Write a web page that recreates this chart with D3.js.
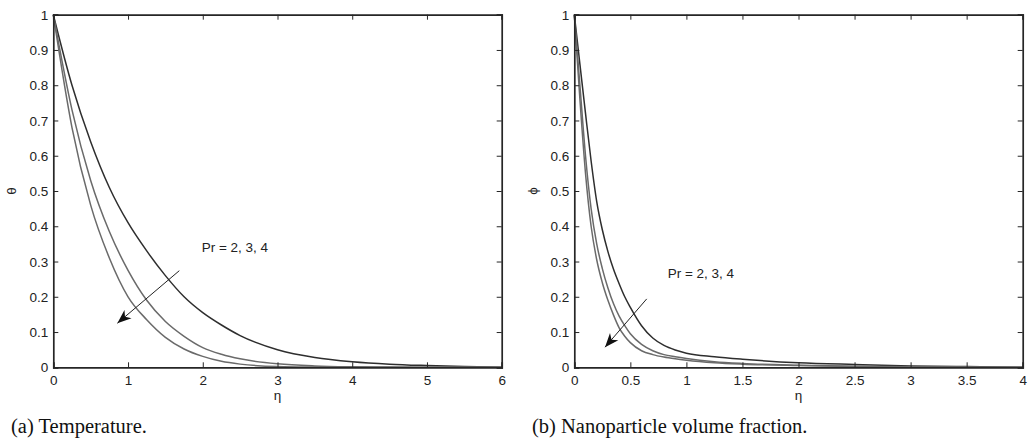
<!DOCTYPE html>
<html>
<head>
<meta charset="utf-8">
<script src="https://cdn.jsdelivr.net/npm/d3@7"></script>
<style>
  body { margin: 0; background: #fff; }
  .caption { font-family: "Liberation Serif", "Times New Roman", serif; font-size: 20.5px; fill: #111; }
  .lbl { font-family: "Liberation Sans", Arial, sans-serif; font-size: 13.5px; fill: #222; }
</style>
</head>
<body>
<svg id="chart"></svg>
<script>
// temperature profiles, Pr = 2, 3, 4
const etaA = [0, 0.25, 0.5, 0.75, 1, 1.25, 1.5, 1.75, 2, 2.25, 2.5, 3, 3.5, 4, 4.5, 5, 5.5, 6];
const thetaPr2 = [1, 0.8, 0.64, 0.51, 0.41, 0.33, 0.26, 0.2, 0.155, 0.12, 0.09, 0.05, 0.028, 0.016, 0.009, 0.005, 0.002, 0];
const thetaPr3 = [1, 0.73, 0.53, 0.385, 0.275, 0.19, 0.13, 0.088, 0.056, 0.037, 0.024, 0.01, 0.004, 0.0015, 0.0005, 0, 0, 0];
const thetaPr4 = [1, 0.68, 0.46, 0.31, 0.2, 0.135, 0.085, 0.052, 0.031, 0.017, 0.009, 0.002, 0.0005, 0, 0, 0, 0, 0];

// nanoparticle volume fraction, Pr = 2, 3, 4
const etaB = [0, 0.05, 0.1, 0.15, 0.2, 0.25, 0.3, 0.35, 0.4, 0.45, 0.5, 0.6, 0.7, 0.8, 0.9, 1, 1.25, 1.5, 2, 2.5, 3, 3.5, 4];
const phiPr2 = [1, 0.86, 0.72, 0.585, 0.47, 0.39, 0.328, 0.278, 0.237, 0.2, 0.17, 0.118, 0.083, 0.062, 0.049, 0.04, 0.03, 0.023, 0.013, 0.008, 0.004, 0.002, 0];
const phiPr3 = [1, 0.8, 0.6, 0.45, 0.35, 0.28, 0.225, 0.18, 0.145, 0.118, 0.095, 0.065, 0.047, 0.036, 0.03, 0.025, 0.016, 0.011, 0.006, 0.003, 0.0015, 0.0007, 0];
const phiPr4 = [1, 0.76, 0.55, 0.4, 0.305, 0.24, 0.19, 0.148, 0.112, 0.088, 0.07, 0.047, 0.036, 0.029, 0.024, 0.02, 0.013, 0.009, 0.005, 0.0025, 0.001, 0.0004, 0];

const yTicks = [0, 0.1, 0.2, 0.3, 0.4, 0.5, 0.6, 0.7, 0.8, 0.9, 1];
const xTicksA = [0, 1, 2, 3, 4, 5, 6];
const xTicksB = [0, 0.5, 1, 1.5, 2, 2.5, 3, 3.5, 4];
const lineColors = ["#2e2e2e", "#6a6a6a", "#6a6a6a"];

const svg = d3.select("#chart").attr("width", 1032).attr("height", 443);
svg.append("rect").attr("width", 1032).attr("height", 443).attr("fill", "#fff");

function drawPanel(p) {
  const x = d3.scaleLinear().domain(p.xDomain).range(p.xRange);
  const y = d3.scaleLinear().domain([0, 1]).range([367.3, 14.7]);
  const g = svg.append("g");

  // curves
  const line = d3.line()
    .x(d => x(d[0]))
    .y(d => y(d[1]))
    .curve(d3.curveMonotoneX);
  p.series.forEach(function (s, i) {
    g.append("path")
      .datum(p.eta.map((e, j) => [e, s[j]]))
      .attr("d", line)
      .attr("fill", "none")
      .attr("stroke", lineColors[i])
      .attr("stroke-width", 1.5);
  });

  // axes with inward ticks on all sides
  const tl = 5;
  const bottom = g.append("g").attr("transform", "translate(0," + y(0) + ")")
    .call(d3.axisBottom(x).tickValues(p.xTicks).tickSize(-tl).tickFormat(d3.format("")));
  bottom.selectAll(".tick text").attr("y", 18).attr("dy", null);
  g.append("g").attr("transform", "translate(0," + y(1) + ")")
    .call(d3.axisTop(x).tickValues(p.xTicks).tickSize(-tl).tickFormat(""));
  const left = g.append("g").attr("transform", "translate(" + x(p.xDomain[0]) + ",0)")
    .call(d3.axisLeft(y).tickValues(yTicks).tickSize(-tl).tickPadding(5).tickFormat(d3.format("")));
  left.selectAll(".tick text").attr("dy", "0.34em");
  g.append("g").attr("transform", "translate(" + x(p.xDomain[1]) + ",0)")
    .call(d3.axisRight(y).tickValues(yTicks).tickSize(-tl).tickFormat(""));
  g.selectAll(".tick text")
    .style("font-family", "'Liberation Sans', Arial, sans-serif")
    .style("font-size", "13.5px")
    .style("fill", "#222");
  g.selectAll(".domain").attr("stroke", "#262626").attr("stroke-width", 1.7);
  g.selectAll(".tick line").attr("stroke", "#262626").attr("stroke-width", 1);

  // axis labels
  g.append("text").attr("class", "lbl")
    .attr("x", (p.xRange[0] + p.xRange[1]) / 2).attr("y", 400)
    .attr("text-anchor", "middle").text("\u03b7");
  g.append("text").attr("class", "lbl")
    .attr("transform", "translate(" + (p.xRange[0] - 37) + "," + y(0.5) + ") rotate(-90)")
    .attr("text-anchor", "middle").text(p.yLabel);

  // annotation
  g.append("text").attr("class", "lbl")
    .attr("x", x(p.note[0])).attr("y", y(p.note[1]) + 5).text("Pr = 2, 3, 4");
  const x1 = x(p.arrow[0]), y1 = y(p.arrow[1]), x2 = x(p.arrow[2]), y2 = y(p.arrow[3]);
  g.append("line").attr("x1", x1).attr("y1", y1).attr("x2", x2).attr("y2", y2)
    .attr("stroke", "#222").attr("stroke-width", 1);
  const ang = Math.atan2(y2 - y1, x2 - x1) * 180 / Math.PI;
  g.append("path")
    .attr("d", "M0,0 L-14,-5.5 L-10,0 L-14,5.5 Z")
    .attr("transform", "translate(" + x2 + "," + y2 + ") rotate(" + ang + ")")
    .attr("fill", "#111");

  // caption
  svg.append("text").attr("class", "caption")
    .attr("x", p.capX).attr("y", 433).text(p.caption);
}

drawPanel({
  xDomain: [0, 6], xRange: [53.3, 501.7], xTicks: xTicksA,
  eta: etaA, series: [thetaPr2, thetaPr3, thetaPr4],
  yLabel: "\u03b8", note: [1.985, 0.341], arrow: [1.686, 0.274, 0.857, 0.125],
  caption: "(a) Temperature.", capX: 11
});
drawPanel({
  xDomain: [0, 4], xRange: [574.3, 1022.7], xTicks: xTicksB,
  eta: etaB, series: [phiPr2, phiPr3, phiPr4],
  yLabel: "\u03d5", note: [0.833, 0.268], arrow: [0.646, 0.194, 0.274, 0.057],
  caption: "(b) Nanoparticle volume fraction.", capX: 532
});
</script>
</body>
</html>
